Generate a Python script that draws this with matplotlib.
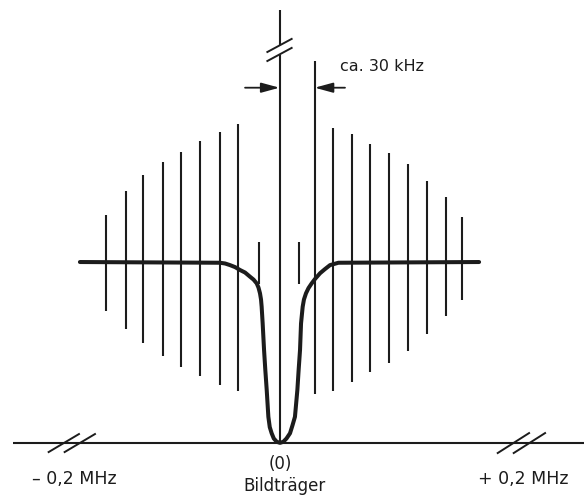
import matplotlib
matplotlib.use("Agg")
import matplotlib.pyplot as plt

# ---------------- data ----------------
# spectral lines: frequency offset from the picture carrier (kHz, schematic)
line_khz = [-137.0, -121.4, -107.5, -92.0, -77.8, -62.7, -47.2, -32.5, -16.2, 0.0,
            15.4, 27.8, 42.5, 57.0, 71.4, 86.2, 101.2, 116.2, 131.2, 144.3]
# upper / lower end of each line (relative amplitude, carrier level = 1)
line_top = [1.26, 1.39, 1.48, 1.55, 1.61, 1.67, 1.72, 1.76, 1.11, 2.39,
            1.11, 2.11, 1.74, 1.71, 1.65, 1.60, 1.54, 1.45, 1.36, 1.25]
line_bottom = [0.73, 0.63, 0.55, 0.48, 0.42, 0.37, 0.32, 0.29, 0.88, 0.0,
               0.88, 0.27, 0.29, 0.34, 0.39, 0.44, 0.51, 0.60, 0.70, 0.79]

# notch (trap) curve
notch_khz = [-157.6, -47.0, -43.0, -39.1, -35.1, -31.2, -27.2, -23.3, -20.5, -18.0,
             -16.6, -15.4, -14.6, -14.1, -13.3, -12.2, -11.2, -10.1, -8.8, -7.7,
             -6.2, -4.5, -2.2, 0.4, 3.0, 5.5, 8.3, 10.3, 12.2, 14.1,
             15.1, 16.2, 17.0, 18.3, 19.3, 20.9, 22.9, 25.4, 28.0, 32.0,
             35.9, 39.9, 43.0, 46.5, 157.6]
notch_amp = [1.0, 0.996, 0.992, 0.983, 0.972, 0.956, 0.942, 0.919, 0.903, 0.882,
             0.859, 0.827, 0.793, 0.753, 0.661, 0.514, 0.403, 0.293, 0.145, 0.088,
             0.054, 0.025, 0.007, 0.001, 0.007, 0.025, 0.054, 0.099, 0.145, 0.293,
             0.403, 0.514, 0.661, 0.753, 0.793, 0.827, 0.856, 0.882, 0.906, 0.938,
             0.961, 0.983, 0.989, 0.996, 1.0]

label_left = "\u2013 0,2 MHz"
label_right = "+ 0,2 MHz"
label_center = "(0)"
label_carrier = "Bildtr\u00e4ger"
label_width = "ca. 30 kHz"

# ---------------- figure ----------------
W, H = 587, 495
fig = plt.figure(figsize=(W / 100, H / 100), dpi=100)
ax = fig.add_axes([0, 0, 1, 1])
X0, X1 = -220.7, 242.8
Y0, Y1 = -0.287, 2.4475
ax.set_xlim(X0, X1)
ax.set_ylim(Y0, Y1)
ax.axis("off")
kx = (X1 - X0) / W   # kHz per pixel
ky = (Y1 - Y0) / H   # amplitude per pixel

ink = "#1c1c1c"
plt.rcParams["font.family"] = ["DejaVu Sans"]

# baseline
ax.plot([-210.4, 240.4], [0, 0], color=ink, lw=1.5, solid_capstyle="butt")


def break_mark(xc, yc, dx_px, dy_px, w_px, h_px):
    """two parallel slanted strokes centred on (xc, yc)"""
    for s in (-0.5, 0.5):
        cx = xc + s * dx_px * kx
        cy = yc + s * dy_px * ky
        ax.plot([cx - w_px / 2 * kx, cx + w_px / 2 * kx],
                [cy - h_px / 2 * ky, cy + h_px / 2 * ky],
                color=ink, lw=1.4, solid_capstyle="butt")


# spectral lines
center_gap = (2.144, 2.199)
for x, t, b in zip(line_khz, line_top, line_bottom):
    if x == 0.0:
        ax.vlines(x, b, center_gap[0], color=ink, lw=1.5)
        ax.vlines(x, center_gap[1], t, color=ink, lw=1.5)
        break_mark(x, sum(center_gap) / 2, 0, -9, 26, 14)
    else:
        ax.vlines(x, b, t, color=ink, lw=1.5)

# notch curve
ax.plot(notch_khz, notch_amp, color=ink, lw=2.9,
        solid_joinstyle="round", solid_capstyle="round")

# break marks on the frequency axis
break_mark(-164.0, 0.0, 16, 0, 32, 19)
break_mark(191.0, 0.0, 16, 0, 33, 21)

# width arrows
arrow_y = 1.963
aprops = dict(arrowstyle="-|>,head_length=0.55,head_width=0.15",
              color=ink, lw=1.3, shrinkA=0, shrinkB=0, mutation_scale=20)
ax.annotate("", xy=(0.0, arrow_y), xytext=(-27.2, arrow_y), arrowprops=aprops)
ax.annotate("", xy=(27.8, arrow_y), xytext=(51.7, arrow_y), arrowprops=aprops)

# texts
ax.text(47.8, 2.08, label_width, ha="left", va="center", fontsize=11.5, color=ink)
ax.text(-162.2, -0.199, label_left, ha="center", va="center", fontsize=12.5, color=ink)
ax.text(192.2, -0.196, label_right, ha="center", va="center", fontsize=12.5, color=ink)
ax.text(0.4, -0.113, label_center, ha="center", va="center", fontsize=12, color=ink)
ax.text(4.3, -0.238, label_carrier, ha="center", va="center", fontsize=12, color=ink)

fig.savefig("out.png", dpi=100, facecolor="white")
